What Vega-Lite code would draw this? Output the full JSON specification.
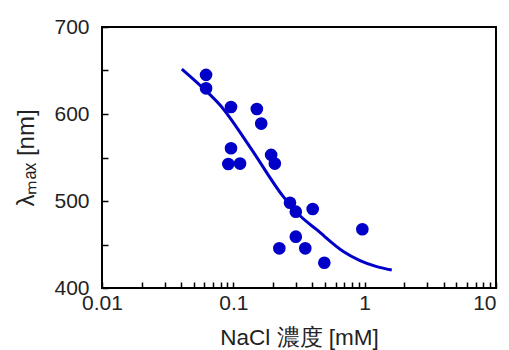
{
  "$schema": "https://vega.github.io/schema/vega-lite/v6.json",
  "width": 394,
  "height": 261,
  "autosize": {"type": "none"},
  "padding": {"left": 102, "top": 27, "right": 13, "bottom": 62},
  "background": "white",
  "config": {
    "view": {"stroke": "black", "strokeWidth": 2},
    "font": "Liberation Sans",
    "axis": {
      "grid": false,
      "domain": false,
      "ticks": true,
      "zindex": 1,
      "labelFont": "Liberation Sans",
      "titleFont": "Liberation Sans",
      "labelFontSize": 21,
      "titleFontSize": 22.5,
      "labelColor": "#222222",
      "titleColor": "#222222",
      "titleFontWeight": "normal",
      "tickColor": "black",
      "tickWidth": 1.5
    }
  },
  "datasets": {
    "points": [
      {"nacl": 0.062, "lmax": 645},
      {"nacl": 0.062, "lmax": 629.5},
      {"nacl": 0.096, "lmax": 608},
      {"nacl": 0.151, "lmax": 605.7},
      {"nacl": 0.163, "lmax": 589},
      {"nacl": 0.096, "lmax": 560.6},
      {"nacl": 0.0916, "lmax": 542.5},
      {"nacl": 0.1125, "lmax": 543},
      {"nacl": 0.194, "lmax": 553},
      {"nacl": 0.207, "lmax": 543},
      {"nacl": 0.27, "lmax": 498},
      {"nacl": 0.299, "lmax": 487.7},
      {"nacl": 0.402, "lmax": 490.8},
      {"nacl": 0.96, "lmax": 467.5},
      {"nacl": 0.299, "lmax": 459},
      {"nacl": 0.224, "lmax": 445.6},
      {"nacl": 0.353, "lmax": 445.6},
      {"nacl": 0.493, "lmax": 429}
    ],
    "fit": [
      {"nacl": 0.0405, "lmax": 651.7},
      {"nacl": 0.0591, "lmax": 629.5},
      {"nacl": 0.0792, "lmax": 610.3},
      {"nacl": 0.134, "lmax": 562},
      {"nacl": 0.2403, "lmax": 505},
      {"nacl": 0.322, "lmax": 483},
      {"nacl": 0.4315, "lmax": 467},
      {"nacl": 0.688, "lmax": 442},
      {"nacl": 1.236, "lmax": 424.5},
      {"nacl": 1.608, "lmax": 420.7}
    ]
  },
  "encoding": {
    "x": {
      "field": "nacl",
      "type": "quantitative",
      "scale": {"type": "log", "domain": [0.01, 10]},
      "axis": {
        "title": "NaCl 濃度 [mM]",
        "values": [0.01, 0.02, 0.03, 0.04, 0.05, 0.06, 0.07, 0.08, 0.09, 0.1, 0.2, 0.3, 0.4, 0.5, 0.6, 0.7, 0.8, 0.9, 1, 2, 3, 4, 5, 6, 7, 8, 9, 10],
        "format": "~g",
        "labelExpr": "(datum.value == 0.01 || datum.value == 0.1 || datum.value == 1 || datum.value == 10) ? datum.label : ''",
        "offset": -6,
        "tickSize": 6,
        "labelPadding": 4,
        "labelAlign": {"condition": {"test": "datum.value >= 10", "value": "right"}, "value": "center"},
        "titlePadding": 13
      }
    },
    "y": {
      "field": "lmax",
      "type": "quantitative",
      "scale": {"domain": [400, 700], "nice": false, "zero": false},
      "axis": {
        "title": "λₘₐₓ [nm]",
        "titleFontSize": 24,
        "values": [400, 450, 500, 550, 600, 650, 700],
        "labelExpr": "datum.value % 100 == 0 ? datum.label : ''",
        "offset": -6,
        "tickSize": 6,
        "labelPadding": 13,
        "titlePadding": 15
      }
    }
  },
  "layer": [
    {
      "data": {"name": "fit"},
      "mark": {"type": "line", "color": "#0000C8", "strokeWidth": 3, "interpolate": "monotone"}
    },
    {
      "data": {"name": "points"},
      "mark": {"type": "circle", "color": "#0000C8", "opacity": 1, "size": 160}
    }
  ]
}
